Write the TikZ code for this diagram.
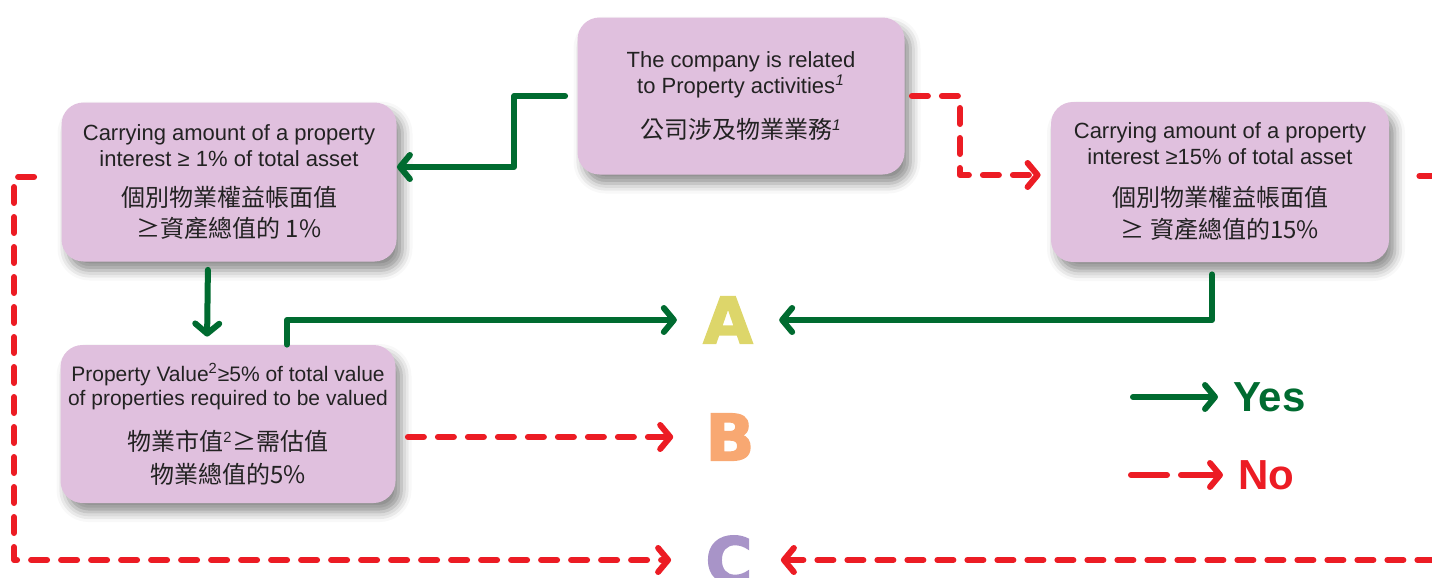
\documentclass[tikz,border=0pt]{standalone}
\usepackage{fontspec}
\setmainfont{Liberation Sans}
\newfontfamily\cjk{Noto Sans CJK TC}
\newfontfamily\heavy{DejaVu Sans Bold}[FakeBold=2.5]
\usetikzlibrary{arrows.meta,shadows.blur}

\definecolor{boxfill}{HTML}{E0C0DE}
\definecolor{boxtext}{HTML}{222222}
\definecolor{yesgreen}{HTML}{006B30}
\definecolor{nored}{HTML}{EC1C24}
\definecolor{colA}{HTML}{DDD66A}
\definecolor{colB}{HTML}{F8A872}
\definecolor{colC}{HTML}{A894C8}

\newcommand{\zh}[1]{{\cjk\fontsize{12}{15}\selectfont #1}}

\tikzset{
  box/.style={fill=boxfill, rounded corners=11pt, align=center, text=boxtext,
    font=\fontsize{11}{13}\selectfont,
    blur shadow={shadow xshift=3pt, shadow yshift=-4.5pt, shadow blur radius=5pt, shadow opacity=45}},
  yes/.style={draw=yesgreen, line width=3pt, line cap=round, line join=round,
    -{Straight Barb[length=5pt,width=12pt,round]}},
  no/.style={draw=nored, line width=3pt, line cap=round, line join=round,
    dash pattern=on 8pt off 7pt, -{Straight Barb[length=5pt,width=12pt,round]}},
  letter/.style={font=\heavy\fontsize{32}{32}\selectfont, inner sep=0pt},
  legend/.style={font=\bfseries\fontsize{21}{21}\selectfont, anchor=west}
}

\begin{document}
\begin{tikzpicture}[x=0.5pt, y=-0.5pt]
  \useasboundingbox (0,0) rectangle (1432,578);
  \clip (0,0) rectangle (1432,578);

  % boxes
  \node[box, minimum width=163.5pt, minimum height=78.5pt] (top) at (741,96)
    {The company is related\\to Property activities\textsuperscript{\itshape 1}\\[9.5pt]\zh{公司涉及物業業務}\textsuperscript{\itshape 1}};
  \node[box, minimum width=167.5pt, minimum height=79.5pt] (left1) at (229,182)
    {Carrying amount of a property\\interest ≥ 1\% of total asset\\[7pt]\zh{個別物業權益帳面值}\\[2.5pt]\zh{≥資產總值的 1\%}};
  \node[box, minimum width=169pt, minimum height=80pt] (right1) at (1220,182)
    {Carrying amount of a property\\interest ≥15\% of total asset\\[8pt]\zh{個別物業權益帳面值}\\[3pt]\zh{≥ 資產總值的15\%}};
  \node[box, minimum width=167.5pt, minimum height=79pt, font=\fontsize{10.5}{12}\selectfont] (left2) at (228,424)
    {Property Value\textsuperscript{2}≥5\% of total value\\of properties required to be valued\\[9pt]\zh{物業市值}\textsuperscript{2}\zh{≥需估值}\\[4.5pt]\zh{物業總值的5\%}};

  % results
  \node[letter, text=colA] (A) at (728,320) {A};
  \node[letter, text=colB] (B) at (730,437) {B};
  \node[letter, text=colC] (C) at (729,560) {C};

  % yes
  \draw[yes, shorten <=6pt] (top.west) -- ++(-63,0) |- ([yshift=7.5pt]left1.east);
  \draw[yes, shorten <=4pt, shorten >=4pt] ([xshift=-10.5pt]left1.south) -- ([xshift=-10.5pt]left2.north);
  \draw[yes, shorten >=13pt] ([xshift=29.5pt]left2.north) |- (A.west);
  \draw[yes, shorten <=6pt, shorten >=13pt] ([xshift=-4pt]right1.south) |- (A.east);

  % no
  \draw[no, shorten <=3.5pt, shorten >=5pt] (top.east) -- ++(55,0) |- ([yshift=3.5pt]right1.west);
  \draw[no, shorten <=6pt, shorten >=16pt] ([yshift=-6.5pt]left2.east) -- (B.west);
  \draw[no, shorten <=13.5pt, shorten >=17pt] ([yshift=2.5pt]left1.west) -- ++(-47,0) |- (C.west);
  \draw[no, shorten <=15pt, shorten >=14pt] ([yshift=3pt]right1.east) -- ++(70,0) |- (C.east);

  % legend
  \node[legend, text=yesgreen] (yes) at (1226,397) {Yes};
  \node[legend, text=nored] (no) at (1231,475) {No};
  \coordinate (yesstart) at (1133,397);
  \coordinate (nostart) at (1131,475);
  \draw[yes, shorten >=4pt] (yesstart) -- (yes.west);
  \draw[no, dash pattern=on 18pt off 7pt, shorten >=4pt] (nostart) -- (no.west);
\end{tikzpicture}
\end{document}
